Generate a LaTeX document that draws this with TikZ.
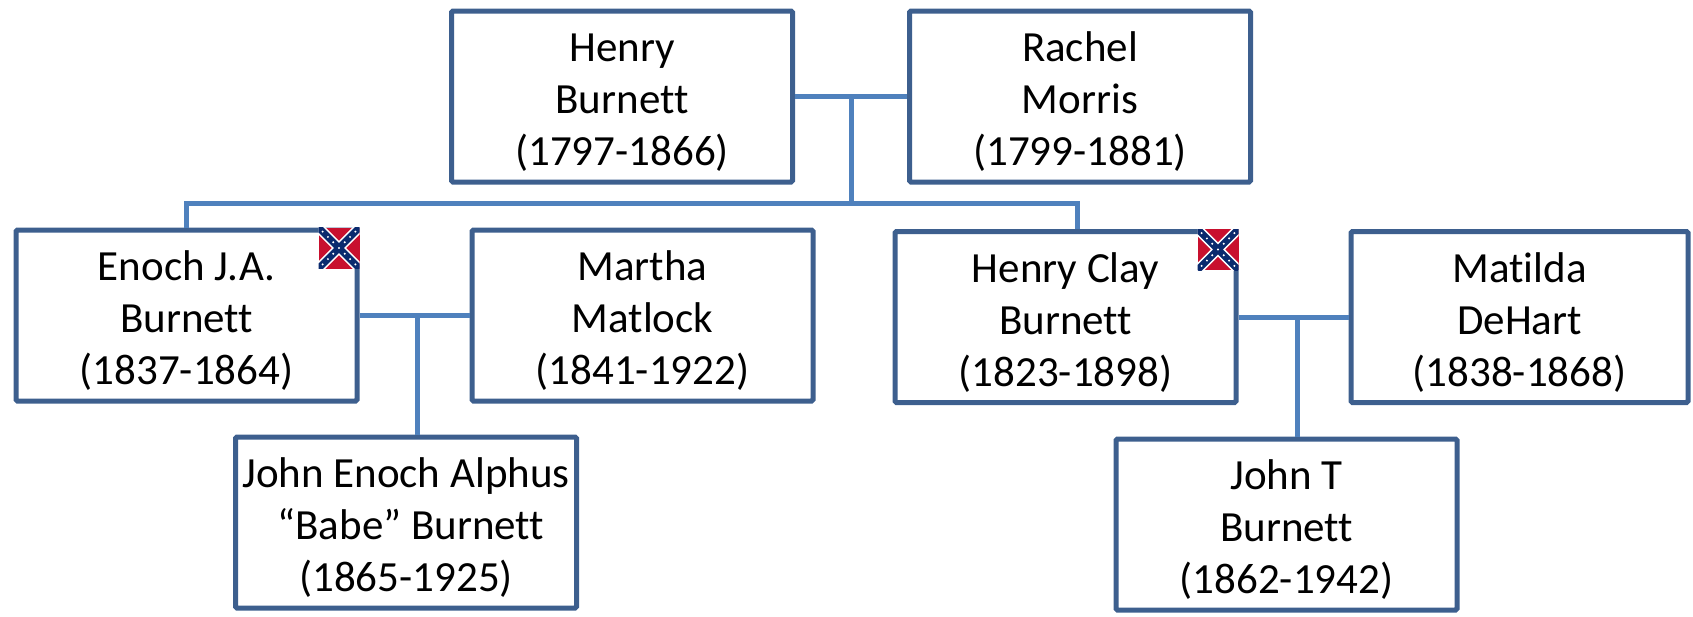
\documentclass[tikz,border=0pt]{standalone}
\usepackage{fontspec}
\setmainfont{Carlito}[Ligatures=NoCommon]
\usetikzlibrary{calc}
\definecolor{boxblue}{HTML}{3D5F8E}
\definecolor{linkblue}{HTML}{4F81BD}
\definecolor{flagred}{HTML}{C8102E}
\definecolor{flagblue}{HTML}{0A2A6E}
\newcommand{\who}[3]{\rule{0pt}{40pt}#1\\#2\\#3}
\newcommand{\cflag}[1]{%
  \begin{scope}[shift={(#1)}]
    \fill[flagred] (-41,0) rectangle (0,41);
    \begin{scope}
      \clip (-41,0) rectangle (0,41);
      \draw[white,line width=10pt] (-41,0) -- (0,41) (-41,41) -- (0,0);
      \draw[flagblue,line width=7pt] (-41,0) -- (0,41) (-41,41) -- (0,0);
    \end{scope}
    \foreach \t in {0.1,0.23,0.36,0.5,0.64,0.77,0.9}
      \fill[white] ($(-41,0)!\t!(0,41)$) circle (1.1);
    \foreach \t in {0.1,0.23,0.36,0.64,0.77,0.9}
      \fill[white] ($(-41,41)!\t!(0,0)$) circle (1.1);
  \end{scope}}

\begin{document}
\begin{tikzpicture}[x=1pt,y=-1pt]
  \tikzset{person/.style={draw=boxblue,line width=5pt,fill=white,rounded corners=1.5pt,
             minimum width=341pt,minimum height=171pt,inner sep=0pt,align=center,
             font=\fontsize{43}{52}\selectfont},
           link/.style={draw=linkblue,line width=5pt}}
  \useasboundingbox (0,0) rectangle (1693,616);
  \node[person] (HB)  at (622,96.5)    {\who{Henry}{Burnett}{(1797-1866)}};
  \node[person] (RM)  at (1080,96.5)   {\who{Rachel}{Morris}{(1799-1881)}};
  \node[person] (EB)  at (186.5,315.5) {\who{Enoch J.A.}{Burnett}{(1837-1864)}};
  \node[person] (MM)  at (642.5,315.5) {\who{Martha}{Matlock}{(1841-1922)}};
  \node[person] (HCB) at (1065.5,317)  {\who{Henry Clay}{Burnett}{(1823-1898)}};
  \node[person,minimum width=337pt] (MD) at (1519.5,317) {\who{Matilda}{DeHart}{(1838-1868)}};
  \node[person] (JEB) at (406,522.5)   {\who{John Enoch Alphus}{\ “Babe” Burnett}{(1865-1925)}};
  \node[person] (JTB) at (1286.5,524.5) {\who{John T}{Burnett}{(1862-1942)}};
  \cflag{EB.north east}
  \cflag{HCB.north east}
  \coordinate (HBRM) at ($(HB.east)!0.5!(RM.west)$);
  \coordinate (bus) at ($(HBRM)+(0,107)$);
  \draw[link] (HB.east) -- (RM.west);
  \draw[link] (HBRM) -- (bus);
  \draw[link] (EB.north) |- (bus) -| ([xshift=12pt]HCB.north);
  \coordinate (EBMM) at ($(EB.east)!0.5!(MM.west)+(3,0)$);
  \draw[link] (EB.east) -- (MM.west);
  \draw[link] (EBMM) -- (EBMM |- JEB.north);
  \coordinate (HCBMD) at ($(HCB.east)!0.5!(MD.west)+(4,0)$);
  \draw[link] (HCB.east) -- (MD.west);
  \draw[link] (HCBMD) -- (HCBMD |- JTB.north);
\end{tikzpicture}
\end{document}
